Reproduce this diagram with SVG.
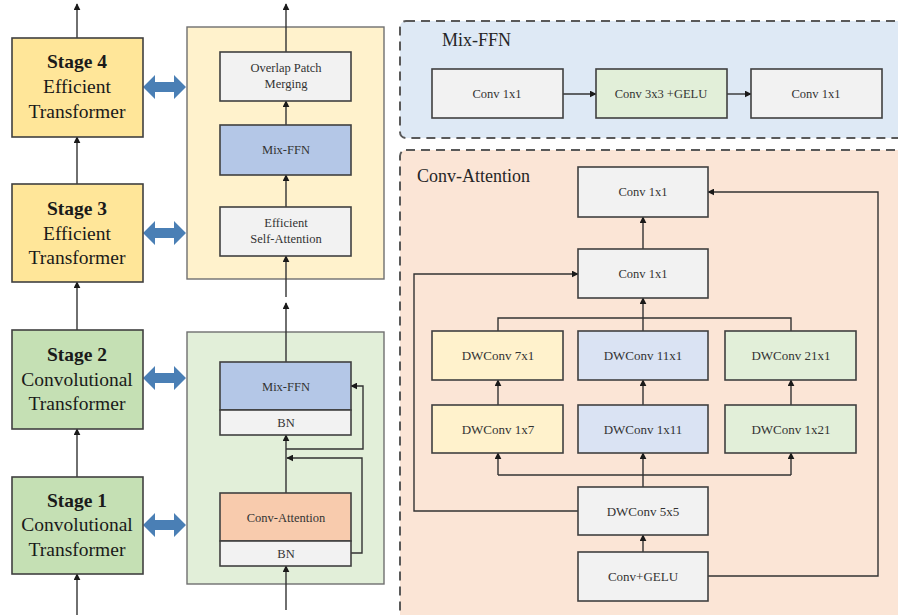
<svg xmlns="http://www.w3.org/2000/svg" width="898" height="615" viewBox="0 0 898 615" font-family="'Liberation Serif', 'DejaVu Serif', 'Times New Roman', serif">
  <style>
    text { font-family: 'Liberation Serif', 'DejaVu Serif', 'Times New Roman', serif; fill: #262626; text-anchor: middle; }
    .stage-t { font-size: 19.5px; fill: #1a1a1a; }
    .stage-b { font-weight: bold; }
    .small { font-size: 12.5px; fill: #333333; }
    .dw { font-size: 13px; fill: #333333; }
    .title { font-size: 18px; text-anchor: start; fill: #262626; }
    .box { stroke: #404040; stroke-width: 1.6; }
    .panel { stroke: #6f6f6f; stroke-width: 1.4; }
    .dash { stroke: #595959; stroke-width: 2; stroke-dasharray: 9 6; }
    .ln { fill: none; stroke: #333333; stroke-width: 1.4; }
    .grey { fill: #f2f2f2; }
    .yel { fill: #fff2cc; }
    .blu { fill: #dae3f3; }
    .grn { fill: #e2efd9; }
    .dbl { fill: #4a7fb5; }
  </style>
  <defs>
    <marker id="ah" viewBox="0 0 10 10" refX="9" refY="5" markerWidth="7" markerHeight="7" markerUnits="userSpaceOnUse" orient="auto">
      <path d="M0,0 L10,5 L0,10 z" fill="#1a1a1a"/>
    </marker>
    <path id="dblarrow" d="M0,0 L12,-12 L12,-5 L31,-5 L31,-12 L43,0 L31,12 L31,5 L12,5 L12,12 z"/>
  </defs>

  <rect width="898" height="615" fill="#ffffff"/>

  <!-- background panels -->
  <g id="panel-efficient">
    <rect class="panel" x="187" y="27" width="197" height="252" fill="#fff2cc"/>
  </g>
  <g id="panel-convolutional">
    <rect class="panel" x="187" y="332" width="197" height="252" fill="#e2efd9"/>
  </g>
  <g id="panel-mixffn">
    <rect class="dash" x="400" y="21" width="520" height="117" rx="6" fill="#dee9f5"/>
    <text class="title" x="442" y="46">Mix-FFN</text>
  </g>
  <g id="panel-convattention">
    <rect class="dash" x="400" y="150" width="520" height="490" rx="6" fill="#fbe5d6"/>
    <text class="title" x="417" y="182">Conv-Attention</text>
  </g>

  <!-- connectors -->
  <g id="connectors">
    <!-- stage chain -->
    <line class="ln" x1="77" y1="38" x2="77" y2="4" marker-end="url(#ah)"/>
    <line class="ln" x1="77" y1="184" x2="77" y2="137" marker-end="url(#ah)"/>
    <line class="ln" x1="77" y1="330" x2="77" y2="282" marker-end="url(#ah)"/>
    <line class="ln" x1="77" y1="477" x2="77" y2="429" marker-end="url(#ah)"/>
    <line class="ln" x1="77" y1="615" x2="77" y2="574" marker-end="url(#ah)"/>

    <!-- efficient transformer block -->
    <line class="ln" x1="286" y1="52" x2="286" y2="4" marker-end="url(#ah)"/>
    <line class="ln" x1="286" y1="125" x2="286" y2="101" marker-end="url(#ah)"/>
    <line class="ln" x1="286" y1="207" x2="286" y2="175" marker-end="url(#ah)"/>
    <line class="ln" x1="286" y1="297" x2="286" y2="256" marker-end="url(#ah)"/>

    <!-- convolutional transformer block -->
    <line class="ln" x1="286" y1="362" x2="286" y2="303" marker-end="url(#ah)"/>
    <line class="ln" x1="286" y1="493" x2="286" y2="435" marker-end="url(#ah)"/>
    <line class="ln" x1="286" y1="610" x2="286" y2="566" marker-end="url(#ah)"/>
    <polyline class="ln" points="351,553 362,553 362,458 287,458" marker-end="url(#ah)"/>
    <polyline class="ln" points="286,449 363,449 363,386 351,386" marker-end="url(#ah)"/>

    <!-- Mix-FFN detail -->
    <line class="ln" x1="563" y1="94" x2="596" y2="94" marker-end="url(#ah)"/>
    <line class="ln" x1="727" y1="94" x2="751" y2="94" marker-end="url(#ah)"/>

    <!-- Conv-Attention detail -->
    <line class="ln" x1="643" y1="249" x2="643" y2="217" marker-end="url(#ah)"/>
    <polyline class="ln" points="498,331 498,318 791,318 791,331"/>
    <line class="ln" x1="643" y1="331" x2="643" y2="298" marker-end="url(#ah)"/>
    <line class="ln" x1="498" y1="405" x2="498" y2="380" marker-end="url(#ah)"/>
    <line class="ln" x1="643" y1="405" x2="643" y2="380" marker-end="url(#ah)"/>
    <line class="ln" x1="791" y1="405" x2="791" y2="380" marker-end="url(#ah)"/>
    <polyline class="ln" points="498,475 791,475"/>
    <line class="ln" x1="498" y1="475" x2="498" y2="453" marker-end="url(#ah)"/>
    <line class="ln" x1="791" y1="475" x2="791" y2="453" marker-end="url(#ah)"/>
    <line class="ln" x1="643" y1="487" x2="643" y2="453" marker-end="url(#ah)"/>
    <line class="ln" x1="643" y1="552" x2="643" y2="535" marker-end="url(#ah)"/>
    <polyline class="ln" points="578,511 414,511 414,274 578,274" marker-end="url(#ah)"/>
    <polyline class="ln" points="708,576 878,576 878,192 708,192" marker-end="url(#ah)"/>

    <!-- stage to block links -->
    <use href="#dblarrow" class="dbl" x="143" y="87"/>
    <use href="#dblarrow" class="dbl" x="143" y="233"/>
    <use href="#dblarrow" class="dbl" x="143" y="378"/>
    <use href="#dblarrow" class="dbl" x="143" y="525"/>
  </g>

  <!-- stages -->
  <g id="stage4">
    <rect class="box" x="12" y="38" width="131" height="99" fill="#ffe699"/>
    <text class="stage-t stage-b" x="77" y="68">Stage 4</text>
    <text class="stage-t" x="77" y="93">Efficient</text>
    <text class="stage-t" x="77" y="118">Transformer</text>
  </g>
  <g id="stage3">
    <rect class="box" x="12" y="184" width="131" height="98" fill="#ffe699"/>
    <text class="stage-t stage-b" x="77" y="215">Stage 3</text>
    <text class="stage-t" x="77" y="240">Efficient</text>
    <text class="stage-t" x="77" y="264">Transformer</text>
  </g>
  <g id="stage2">
    <rect class="box" x="12" y="330" width="131" height="99" fill="#c5e0b4"/>
    <text class="stage-t stage-b" x="77" y="361">Stage 2</text>
    <text class="stage-t" x="77" y="386">Convolutional</text>
    <text class="stage-t" x="77" y="410">Transformer</text>
  </g>
  <g id="stage1">
    <rect class="box" x="12" y="477" width="131" height="97" fill="#c5e0b4"/>
    <text class="stage-t stage-b" x="77" y="507">Stage 1</text>
    <text class="stage-t" x="77" y="531">Convolutional</text>
    <text class="stage-t" x="77" y="556">Transformer</text>
  </g>

  <!-- efficient transformer block -->
  <g id="overlap-patch-merging">
    <rect class="box grey" x="220" y="52" width="131" height="49"/>
    <text class="small" x="286" y="72">Overlap Patch</text>
    <text class="small" x="286" y="88">Merging</text>
  </g>
  <g id="mixffn-eff">
    <rect class="box" x="220" y="125" width="131" height="50" fill="#b4c7e7"/>
    <text class="small" x="286" y="154">Mix-FFN</text>
  </g>
  <g id="efficient-self-attention">
    <rect class="box grey" x="220" y="207" width="131" height="49"/>
    <text class="small" x="286" y="227">Efficient</text>
    <text class="small" x="286" y="243">Self-Attention</text>
  </g>

  <!-- convolutional transformer block -->
  <g id="mixffn-conv">
    <rect class="box" x="220" y="362" width="131" height="48" fill="#b4c7e7"/>
    <text class="small" x="286" y="391">Mix-FFN</text>
  </g>
  <g id="bn-top">
    <rect class="box grey" x="220" y="410" width="131" height="25"/>
    <text class="small" x="286" y="427">BN</text>
  </g>
  <g id="conv-attention-block">
    <rect class="box" x="220" y="493" width="131" height="48" fill="#f8cbad"/>
    <text class="small" x="286" y="522">Conv-Attention</text>
  </g>
  <g id="bn-bottom">
    <rect class="box grey" x="220" y="541" width="131" height="25"/>
    <text class="small" x="286" y="558">BN</text>
  </g>

  <!-- Mix-FFN detail -->
  <g id="ffn-conv1x1-a">
    <rect class="box grey" x="432" y="69" width="131" height="49"/>
    <text class="small" x="497" y="98">Conv 1x1</text>
  </g>
  <g id="ffn-conv3x3-gelu">
    <rect class="box grn" x="596" y="69" width="131" height="49"/>
    <text class="small" x="661" y="98">Conv 3x3 +GELU</text>
  </g>
  <g id="ffn-conv1x1-b">
    <rect class="box grey" x="751" y="69" width="131" height="49"/>
    <text class="small" x="816" y="98">Conv 1x1</text>
  </g>

  <!-- Conv-Attention detail -->
  <g id="ca-conv1x1-top">
    <rect class="box grey" x="578" y="167" width="130" height="50"/>
    <text class="small" x="643" y="196">Conv 1x1</text>
  </g>
  <g id="ca-conv1x1-mid">
    <rect class="box grey" x="578" y="249" width="130" height="49"/>
    <text class="small" x="643" y="278">Conv 1x1</text>
  </g>
  <g id="dwconv-7x1">
    <rect class="box yel" x="432" y="331" width="131" height="49"/>
    <text class="dw" x="498" y="360">DWConv 7x1</text>
  </g>
  <g id="dwconv-11x1">
    <rect class="box blu" x="578" y="331" width="130" height="49"/>
    <text class="dw" x="643" y="360">DWConv 11x1</text>
  </g>
  <g id="dwconv-21x1">
    <rect class="box grn" x="725" y="331" width="131" height="49"/>
    <text class="dw" x="791" y="360">DWConv 21x1</text>
  </g>
  <g id="dwconv-1x7">
    <rect class="box yel" x="432" y="405" width="131" height="48"/>
    <text class="dw" x="498" y="434">DWConv 1x7</text>
  </g>
  <g id="dwconv-1x11">
    <rect class="box blu" x="578" y="405" width="130" height="48"/>
    <text class="dw" x="643" y="434">DWConv 1x11</text>
  </g>
  <g id="dwconv-1x21">
    <rect class="box grn" x="725" y="405" width="131" height="48"/>
    <text class="dw" x="791" y="434">DWConv 1x21</text>
  </g>
  <g id="dwconv-5x5">
    <rect class="box grey" x="578" y="487" width="130" height="48"/>
    <text class="dw" x="643" y="516">DWConv 5x5</text>
  </g>
  <g id="conv-gelu">
    <rect class="box grey" x="578" y="552" width="130" height="49"/>
    <text class="dw" x="643" y="581">Conv+GELU</text>
  </g>
</svg>
